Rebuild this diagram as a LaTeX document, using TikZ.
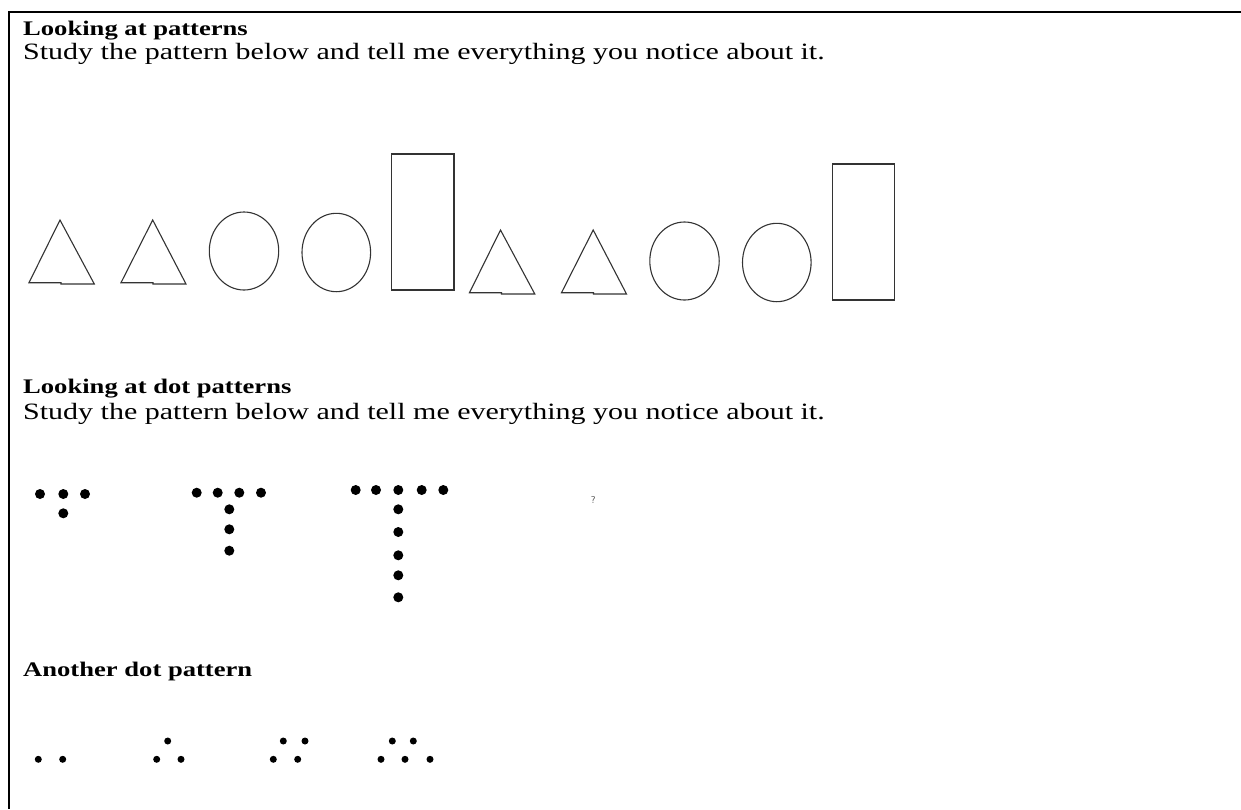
\documentclass[tikz,border=0pt]{standalone}
\usepackage{fontspec}
\setmainfont{Liberation Serif}
\usepackage{tikz}

\newcommand{\squash}[1]{\scalebox{1}[0.78]{#1}}

\begin{document}
\begin{tikzpicture}[x=1pt, y=-1pt,
      head/.style={anchor=base west, inner sep=0pt, font=\fontsize{26.6}{30}\selectfont\bfseries},
      body/.style={anchor=base west, inner sep=0pt, font=\fontsize{30}{36}\selectfont},
      shp/.style={draw=black!80, line width=1.1pt},
      bigdot/.style={fill=black},
      smalldot/.style={fill=black}]
    \useasboundingbox (0,0) rectangle (1241,809);
    % frame: top and left rules only
    \coordinate (tl) at (9,12);
    \coordinate (tr) at (1241,12);
    \coordinate (bl) at (9,809);
    \draw[line width=2pt] (tr) -- (tl) -- (bl);

    % section 1
    \node[head] (h1) at (23,35) {\squash{Looking at patterns}};
    \node[body] (s1) at (23,59) {\squash{Study the pattern below and tell me everything you notice about it.}};
    \foreach \dx/\dy in {0/0, 440.5/10} {
      \begin{scope}[shift={(\dx,\dy)}]
        \draw[shp] (29,282.7) -- (60,220) -- (94.3,284) -- (61,284) -- (61,282.7) -- cycle;
        \draw[shp] (121,282.7) -- (152.7,220) -- (186,284) -- (153,284) -- (153,282.7) -- cycle;
        \draw[shp] (244,251) ellipse [x radius=34.7, y radius=39];
        \draw[shp] (336.3,252.5) ellipse [x radius=34.3, y radius=39.2];
        \draw[shp] (391.7,154) rectangle (454,290);
      \end{scope}
    }

    % section 2
    \node[head] (h2) at (23,393) {\squash{Looking at dot patterns}};
    \node[body] (s2) at (23,419) {\squash{Study the pattern below and tell me everything you notice about it.}};
    \foreach \x in {40,63.3,85} \fill[bigdot] (\x,494) circle (5);
    \fill[bigdot] (63.3,513.3) circle (5);
    \foreach \x in {196.7,217.7,239.3,261} \fill[bigdot] (\x,492.7) circle (5);
    \foreach \y in {509.3,529.3,550.7} \fill[bigdot] (229.3,\y) circle (5);
    \foreach \x in {355.7,376,398.3,421.7,443.3} \fill[bigdot] (\x,490) circle (5);
    \foreach \y in {509.3,532,555.3,575.3,597.3} \fill[bigdot] (398.3,\y) circle (5);
    \node[inner sep=0pt, text=black!70, font=\fontsize{10}{11}\selectfont\sffamily] (q) at (593.3,500) {?};

    % section 3
    \node[head] (h3) at (23,676) {\squash{Another dot pattern}};
    \foreach \x/\y in {38.3/759.3, 62.7/759.3,
                       167.7/741, 156.7/759.3, 181/759.3,
                       283.3/741, 305/741, 273.3/759.3, 297.7/759.3,
                       392.3/741, 413.3/741, 381/759.3, 405/759.3, 430/759.3}
      \fill[smalldot] (\x,\y) circle (3.5);
\end{tikzpicture}
\end{document}
